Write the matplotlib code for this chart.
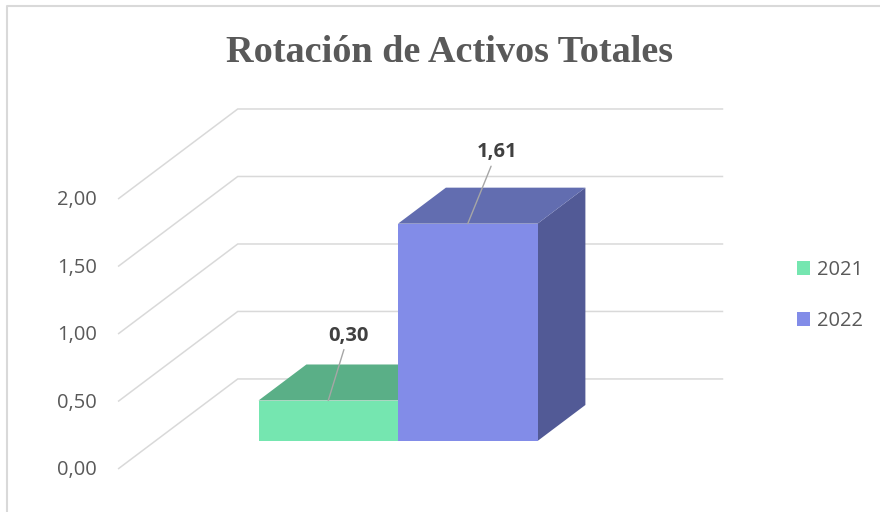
import matplotlib
matplotlib.use('Agg')
import matplotlib.pyplot as plt
from matplotlib.patches import Polygon
from matplotlib.lines import Line2D

# ---- data ----
series = ['2021', '2022']
values = [0.30, 1.61]
value_labels = ['0,30', '1,61']
tick_values = [0.0, 0.5, 1.0, 1.5, 2.0]
tick_labels = ['0,00', '0,50', '1,00', '1,50', '2,00']
title = 'Rotación de Activos Totales'

# ---- style ----
front_colors = ['#75E6B0', '#828CE8']
top_colors = ['#5AAF87', '#626DB0']
side_colors = ['#4E9A76', '#525A96']
grid_color = '#D9D9D9'
text_color = '#595959'
label_color = '#404040'

plt.rcParams['font.family'] = ['Open Sans', 'DejaVu Sans']

W, H = 880, 512
fig = plt.figure(figsize=(W / 100, H / 100), dpi=100)
ax = fig.add_axes([0, 0, 1, 1])
ax.set_xlim(-2.853, 3.455)
ax.set_ylim(-0.526, 3.267)
ax.axis('off')

# pseudo-3D geometry (data units)
Dx, Dy = 0.858, 0.667      # full floor depth vector
f_front, f_back = -0.311, 0.689
bdx, bdy = 0.4 * Dx, 0.4 * Dy   # bar depth
xL, xR = -1.74, 1.74

# gridlines + tick labels
for v, lbl in zip(tick_values, tick_labels):
    fx, fy = xL + f_front * Dx, v + f_front * Dy
    bx, by = xL + f_back * Dx, v + f_back * Dy
    rx = xR + f_back * Dx
    ax.plot([fx, bx, rx], [fy, by, by], color=grid_color, lw=1.1, zorder=1,
            solid_joinstyle='miter', solid_capstyle='butt')
    ax.annotate(lbl, (fx, fy), xytext=(-15, -1), textcoords='offset points',
                ha='right', va='center', fontsize=14.5, color=text_color)

# bars
xs = [-0.5, 0.5]
bars = ax.bar(xs, values, width=1, color=front_colors, linewidth=0, zorder=3)
for i, (x, v) in enumerate(zip(xs, values)):
    x0, x1 = x - 0.5, x + 0.5
    side = Polygon([(x1, 0), (x1, v), (x1 + bdx, v + bdy), (x1 + bdx, bdy)],
                   closed=True, fc=side_colors[i], ec='none', zorder=2)
    top = Polygon([(x0, v), (x1, v), (x1 + bdx, v + bdy), (x0 + bdx, v + bdy)],
                  closed=True, fc=top_colors[i], ec='none', zorder=2)
    ax.add_patch(side)
    ax.add_patch(top)

# data labels with leader lines
label_offsets = [(14.4, 46.8), (20.9, 51.5)]
for x, v, lbl, off in zip(xs, values, value_labels, label_offsets):
    ax.annotate(lbl, (x, v), xytext=off, textcoords='offset points',
                ha='center', va='center', fontsize=14.5, fontweight='bold',
                color=label_color, zorder=5,
                arrowprops=dict(arrowstyle='-', color='#A6A6A6', lw=1.0,
                                shrinkA=1, shrinkB=0))

# legend
fig.legend([bars.patches[0], bars.patches[1]], series, loc='center left',
           bbox_to_anchor=(797 / W, 1 - 295.5 / H), frameon=False,
           borderpad=0, borderaxespad=0, handlelength=0.65, handleheight=0.65,
           handletextpad=0.35, labelspacing=1.55,
           prop={'size': 14.5}, labelcolor=text_color)

# title
fig.text(449.7 / W, 1 - 62.0 / H, title, ha='center', va='baseline',
         fontsize=27.5, fontweight='bold', family='Liberation Serif',
         color=text_color)

# chart border
fig.add_artist(Line2D([7 / W, 7 / W, 1], [0, 1 - 6 / H, 1 - 6 / H],
                      color=grid_color, lw=1.5))

fig.savefig('out.png', dpi=100)
